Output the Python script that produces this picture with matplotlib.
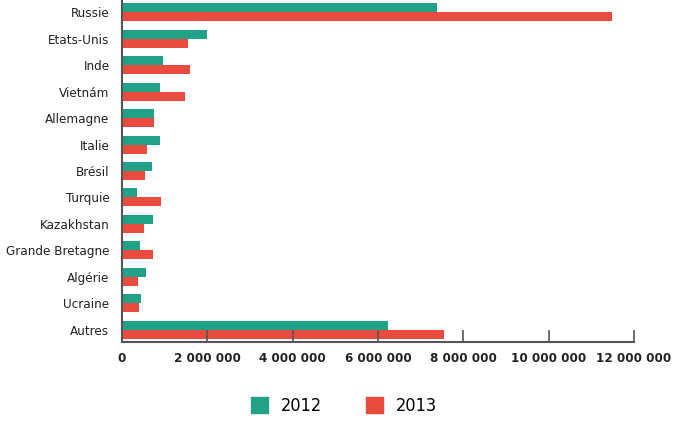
import matplotlib
matplotlib.use("Agg")
import matplotlib.pyplot as plt
from matplotlib.patches import Patch
import numpy as np

categories = ["Russie", "Etats-Unis", "Inde", "Vietnám", "Allemagne", "Italie", "Brésil",
              "Turquie", "Kazakhstan", "Grande Bretagne", "Algérie", "Ucraine", "Autres"]
values_2012 = [7380000, 1990000, 960000, 900000, 760000, 880000, 710000,
               350000, 720000, 420000, 560000, 440000, 6240000]
values_2013 = [11490000, 1540000, 1600000, 1480000, 750000, 590000, 550000,
               910000, 520000, 730000, 380000, 400000, 7540000]
series_labels = ["2012", "2013"]
xticks = [0, 2000000, 4000000, 6000000, 8000000, 10000000, 12000000]
xtick_labels = ["0", "2 000 000", "4 000 000", "6 000 000", "8 000 000", "10 000 000", "12 000 000"]

fam = "DejaVu Sans"
green = "#21a186"
red = "#e94b3e"

fig = plt.figure(figsize=(6.78, 4.21), dpi=100)
ax = fig.add_axes([122/678, 1 - 342/421, (634-122)/678, 342/421])

y = np.arange(len(categories))
h = 0.34
ax.barh(y - h/2, values_2012, height=h, color=green, label=series_labels[0])
ax.barh(y + h/2, values_2013, height=h, color=red, label=series_labels[1])

ax.set_xlim(0, 12000000)
ax.set_ylim(len(categories) - 1 + 0.46, -0.46)
ax.set_yticks(y)
ax.set_yticklabels(categories, fontfamily=fam, fontstretch="condensed", fontsize=9.6, color="#222222")
ax.tick_params(axis="y", length=0, pad=9)
ax.set_xticks(xticks)
ax.set_xticklabels(xtick_labels, fontfamily=fam, fontstretch="condensed", fontsize=9.5,
                   fontweight="bold", color="#222222")
ax.tick_params(axis="x", direction="in", length=9, width=1.2, color="#555555", pad=7)

for s in ["top", "right"]:
    ax.spines[s].set_visible(False)
for s in ["left", "bottom"]:
    ax.spines[s].set_color("#555555")
    ax.spines[s].set_linewidth(1.5)

handles = [Patch(color=green), Patch(color=red)]
fig.legend(handles, series_labels, loc="center", bbox_to_anchor=(344/678, 1 - 406/421),
           ncol=2, frameon=False, prop={"family": fam, "stretch": "condensed", "size": 13},
           handlelength=0.95, handleheight=0.95, columnspacing=2.4, handletextpad=0.75)

fig.savefig("out.png", dpi=100)
